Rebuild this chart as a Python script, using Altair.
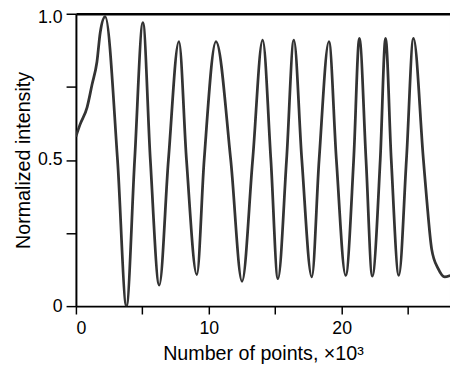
import altair as alt
import pandas as pd

# x in thousands of points, y normalized intensity
x_vals = [0.0, 0.3, 0.84, 1.21, 1.58, 1.83, 2.2,
          3.13, 3.8, 4.42, 5.04, 5.6, 6.27, 6.96, 7.75, 8.32, 9.1, 9.65, 10.54,
          11.65, 12.5, 13.3, 14.05, 14.67, 15.2, 15.85, 16.4, 17.0, 17.75, 18.3,
          19.04, 19.6, 20.3, 20.9, 21.33, 21.83, 22.3, 22.9, 23.3, 23.73, 24.3,
          24.87, 25.4, 26.15, 26.4, 26.77, 27.26, 27.75, 28.17]
y_vals = [0.58, 0.62, 0.68, 0.757, 0.835, 0.936, 0.99,
          0.5, 0.0, 0.5, 0.97, 0.5, 0.072, 0.5, 0.905, 0.5, 0.108, 0.5, 0.905,
          0.5, 0.085, 0.5, 0.91, 0.5, 0.094, 0.5, 0.91, 0.5, 0.10, 0.5,
          0.905, 0.5, 0.105, 0.5, 0.916, 0.5, 0.103, 0.5, 0.916, 0.5, 0.105,
          0.5, 0.916, 0.5, 0.364, 0.195, 0.128, 0.10, 0.105]

df = pd.DataFrame({"x": x_vals, "y": y_vals})

FONT = "Liberation Sans"
XDOM = [0, 28.15]

line = alt.Chart(df).mark_line(
    color="#333333", strokeWidth=2.8, interpolate="monotone", clip=True
).encode(
    x=alt.X("x:Q",
            scale=alt.Scale(domain=XDOM, nice=False, zero=False),
            axis=alt.Axis(
                title="Number of points, ×10³",
                values=[0, 5, 10, 15, 20, 25],
                labelExpr="datum.value % 10 == 0 ? datum.label : ''",
                format="d",
                grid=False, domainColor="black", domainWidth=2,
                tickColor="black", tickWidth=1.5, tickSize=8,
                labelFontSize=18, labelFont=FONT, labelColor="black",
                labelPadding=6,
                titleFontSize=20, titleFont=FONT, titleFontWeight="normal",
                titleColor="black", titlePadding=6,
            )),
    y=alt.Y("y:Q",
            scale=alt.Scale(domain=[0, 1.0], nice=False),
            axis=alt.Axis(
                title="Normalized intensity",
                values=[0, 0.25, 0.5, 0.75, 1.0],
                labelExpr="datum.value == 0 ? '0' : (datum.value == 0.5 ? '0.5' : (datum.value == 1 ? '1.0' : ''))",
                labelOffset={"condition": {"test": "datum.value == 1", "value": 4}, "value": 0},
                grid=False, domainColor="black", domainWidth=2,
                tickColor="black", tickWidth=1.5, tickSize=10,
                labelFontSize=18, labelFont=FONT, labelColor="black",
                labelPadding=4,
                titleFontSize=20, titleFont=FONT, titleFontWeight="normal",
                titleColor="black", titlePadding=4,
            )),
)

frame = alt.Chart(df).mark_line(opacity=0).encode(
    x=alt.X("x:Q", scale=alt.Scale(domain=XDOM, nice=False, zero=False),
            axis=alt.Axis(orient="top", title=None, labels=False, ticks=False,
                          grid=False, domainColor="black", domainWidth=2.5)),
    y=alt.Y("y:Q", scale=alt.Scale(domain=[0, 1.0], nice=False),
            axis=alt.Axis(orient="right", title=None, labels=False, ticks=False,
                          grid=False, domainColor="#aaaaaa", domainWidth=1)),
)

chart = alt.layer(line, frame).resolve_axis(
    x="independent", y="independent"
).properties(
    width=380, height=297,
    autosize=alt.AutoSizeParams(type="none"),
    padding={"left": 69, "top": 3, "right": 0, "bottom": 60},
).configure_view(stroke=None).configure(background="white")

chart.save("out.html", embed_options={"renderer": "svg", "actions": False})
